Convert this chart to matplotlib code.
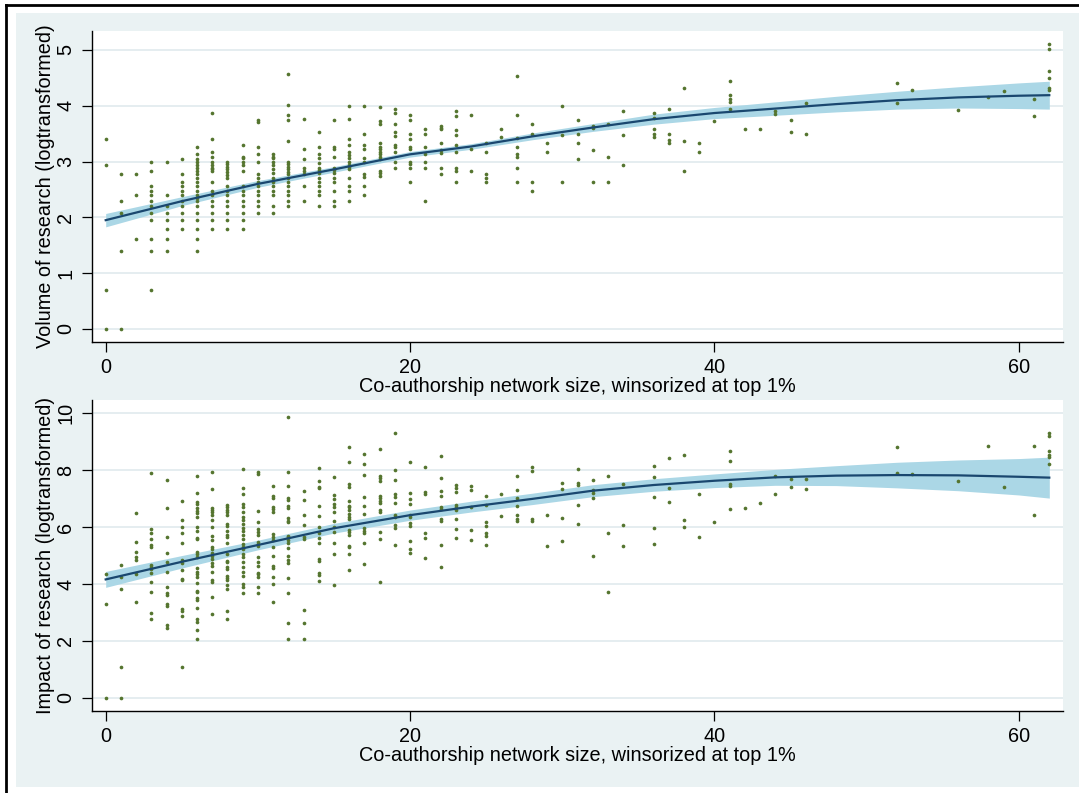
import matplotlib
matplotlib.use("Agg")
import matplotlib.pyplot as plt
from matplotlib.patches import Rectangle
from matplotlib.lines import Line2D

# network sizes that occur in the data (both panels share them)
sizes = list(range(0, 35)) + list(range(36, 47)) + [52, 53, 56, 58, 59, 61, 62]

# volume of research, one list of observations per network size
volume_cols = [
    [3.40, 2.94, 0.69, 0.0],
    [2.77, 2.30, 2.08, 1.39, 0.0],
    [2.77, 2.40, 1.61],
    [3.0, 2.83, 2.57, 2.48, 2.40, 2.30, 2.20, 2.08, 1.95, 1.61, 1.39, 0.69],
    [3.0, 2.40, 2.20, 2.08, 1.95, 1.79, 1.61, 1.39],
    [3.04, 2.77, 2.64, 2.56, 2.48, 2.40, 2.30, 2.20, 2.08, 1.95, 1.79],
    [3.26, 3.14, 3.04, 3.0, 2.94, 2.89, 2.83, 2.77, 2.71, 2.64, 2.56, 2.48, 2.40, 2.35,
     2.30, 2.20, 2.08, 1.95, 1.79, 1.61, 1.39],
    [3.87, 3.40, 3.18, 3.09, 3.0, 2.94, 2.89, 2.86, 2.83, 2.64, 2.48, 2.40, 2.30, 2.20,
     2.08, 1.95, 1.79],
    [3.0, 2.96, 2.91, 2.86, 2.81, 2.76, 2.71, 2.56, 2.48, 2.40, 2.30, 2.20, 2.08, 1.95, 1.79],
    [3.30, 3.09, 3.06, 3.0, 2.94, 2.83, 2.56, 2.48, 2.40, 2.30, 2.20, 2.08, 1.95, 1.79],
    [3.74, 3.71, 3.26, 3.14, 3.0, 2.78, 2.71, 2.64, 2.56, 2.48, 2.40, 2.30, 2.20, 2.08],
    [3.14, 3.09, 3.06, 3.0, 2.94, 2.86, 2.79, 2.71, 2.64, 2.56, 2.48, 2.40, 2.20, 2.08],
    [4.57, 4.01, 3.83, 3.74, 3.37, 3.0, 2.96, 2.91, 2.86, 2.82, 2.77, 2.71, 2.64, 2.56,
     2.48, 2.40, 2.30, 2.20],
    [3.76, 3.22, 3.04, 2.89, 2.84, 2.78, 2.56, 2.30],
    [3.53, 3.26, 3.14, 3.06, 2.97, 2.89, 2.85, 2.79, 2.71, 2.64, 2.56, 2.48, 2.40, 2.20],
    [3.74, 3.26, 3.22, 3.09, 2.89, 2.85, 2.79, 2.71, 2.64, 2.48, 2.30, 2.20],
    [4.0, 3.76, 3.40, 3.30, 3.18, 3.11, 3.06, 3.0, 2.94, 2.91, 2.86, 2.71, 2.56, 2.48, 2.30],
    [4.0, 3.50, 3.30, 3.22, 3.06, 3.0, 2.78, 2.73, 2.56, 2.40],
    [3.98, 3.73, 3.67, 3.33, 3.26, 3.22, 3.18, 3.14, 3.09, 3.04, 2.83, 2.79, 2.75],
    [3.95, 3.87, 3.67, 3.53, 3.45, 3.30, 3.26, 3.18, 3.0, 2.89],
    [3.83, 3.74, 3.50, 3.40, 3.26, 3.22, 3.0, 2.96, 2.89, 2.64],
    [3.58, 3.50, 3.26, 3.14, 3.0, 2.89, 2.30],
    [3.64, 3.61, 3.58, 3.33, 3.21, 3.16, 2.89, 2.77],
    [3.91, 3.81, 3.56, 3.47, 3.30, 3.18, 2.89, 2.84, 2.64],
    [3.83, 3.22, 2.83],
    [3.33, 3.18, 2.77, 2.71, 2.64],
    [3.58, 3.44],
    [4.54, 3.83, 3.43, 3.26, 3.14, 3.09, 2.89, 2.64],
    [3.67, 3.50, 2.64, 2.48],
    [3.33, 3.18],
    [3.99, 3.48, 2.64],
    [3.74, 3.50, 3.33, 3.04],
    [3.64, 3.61, 3.21, 2.64],
    [3.67, 3.09, 2.64],
    [3.91, 3.47, 2.94],
    [3.87, 3.78, 3.59, 3.50, 3.44],
    [3.95, 3.50, 3.38, 3.33],
    [4.31, 3.37, 2.83],
    [3.33, 3.18],
    [3.72],
    [4.44, 4.20, 4.12, 4.06, 3.94],
    [3.59],
    [3.59],
    [3.91, 3.85],
    [3.74, 3.53],
    [4.05, 3.50],
    [4.41, 4.05],
    [4.28],
    [3.93],
    [4.15],
    [4.27],
    [4.12, 3.81],
    [5.10, 5.01, 4.62, 4.49, 4.31, 4.28],
]

# impact of research, one list of observations per network size
impact_cols = [
    [4.35, 3.29, 0.0],
    [4.68, 4.26, 3.83, 1.07, 0.0],
    [6.48, 5.46, 5.13, 4.96, 4.84, 4.36, 3.35],
    [7.90, 5.94, 5.78, 5.57, 5.37, 5.29, 4.67, 4.61, 4.51, 4.37, 4.08, 3.72, 2.99, 2.78],
    [7.66, 6.66, 5.66, 5.10, 4.77, 4.42, 3.88, 3.69, 3.62, 3.29, 3.24, 2.54, 2.45],
    [6.92, 6.25, 5.99, 5.78, 5.43, 4.84, 4.75, 4.49, 4.17, 4.13, 3.13, 3.06, 2.88, 1.07],
    [7.80, 7.20, 6.89, 6.83, 6.66, 6.58, 6.48, 6.34, 6.01, 5.86, 5.60, 5.57, 5.13, 5.05,
     4.96, 4.55, 4.43, 4.35, 4.26, 4.02, 3.76, 3.73, 3.49, 3.43, 3.14, 2.77, 2.68, 2.38, 2.08],
    [7.95, 7.34, 6.66, 6.60, 6.52, 6.42, 6.25, 6.01, 5.69, 5.55, 5.31, 5.22, 5.10, 4.98,
     4.87, 4.72, 4.64, 4.41, 4.14, 4.08, 3.54, 2.93],
    [6.76, 6.69, 6.60, 6.52, 6.42, 6.11, 6.04, 5.87, 5.72, 5.66, 5.43, 5.04, 4.82, 4.76,
     4.60, 4.51, 4.28, 4.20, 4.14, 3.96, 3.81, 3.04, 2.77],
    [8.05, 7.36, 7.17, 6.83, 6.69, 6.52, 6.34, 6.25, 6.11, 5.97, 5.87, 5.72, 5.57, 5.40,
     5.31, 5.22, 5.05, 4.94, 4.78, 4.58, 4.41, 4.28, 3.99, 3.89, 3.69],
    [7.94, 7.87, 6.58, 6.18, 5.92, 5.84, 5.72, 5.49, 5.40, 5.33, 4.96, 4.78, 4.63, 4.40,
     4.34, 4.26, 3.90, 3.68],
    [7.46, 7.09, 7.03, 6.72, 6.64, 6.54, 5.74, 5.66, 5.55, 5.31, 4.98, 4.63, 4.56, 4.26,
     4.00, 3.36],
    [9.87, 7.93, 7.46, 7.03, 6.95, 6.74, 6.66, 6.31, 6.23, 6.17, 5.69, 5.64, 5.55, 5.45,
     5.25, 4.98, 4.84, 4.72, 4.20, 3.67, 2.64, 2.08],
    [7.27, 6.95, 6.42, 6.07, 5.66, 5.58, 3.08, 2.64, 2.08],
    [8.09, 7.63, 7.42, 7.36, 6.75, 6.39, 6.01, 5.80, 5.60, 5.43, 4.87, 4.82, 4.37, 4.30, 4.10],
    [7.77, 7.14, 6.98, 6.83, 6.69, 6.54, 6.23, 6.01, 5.84, 5.45, 5.04, 3.97],
    [8.81, 8.30, 7.50, 7.42, 6.92, 6.75, 6.69, 6.60, 6.46, 6.37, 6.27, 5.90, 5.84, 5.72,
     5.33, 5.29, 5.04, 4.49],
    [8.57, 8.23, 7.83, 7.07, 6.75, 6.46, 5.96, 5.87, 5.78, 5.43, 4.70],
    [8.75, 7.80, 7.71, 7.63, 7.09, 7.01, 6.93, 6.86, 6.60, 6.54, 5.84, 5.57, 4.08],
    [9.31, 8.01, 7.66, 7.16, 7.07, 6.86, 6.42, 6.34, 6.07, 5.98, 5.37],
    [8.30, 7.19, 7.00, 6.80, 6.42, 6.34, 6.15, 6.04, 5.52, 5.23, 5.08],
    [8.11, 7.23, 7.15, 5.80, 5.63, 4.92],
    [8.50, 7.74, 7.28, 7.08, 6.69, 6.62, 6.27, 6.23, 5.37, 4.58],
    [7.47, 7.36, 7.23, 6.78, 6.69, 6.60, 6.28, 5.94, 5.62],
    [7.43, 7.29, 6.69, 5.90, 5.53],
    [7.08, 6.78, 6.17, 6.03, 5.78, 5.69, 5.37],
    [7.17, 6.39],
    [7.78, 7.29, 7.01, 6.74, 6.44, 6.27, 6.23],
    [8.11, 7.97, 6.27, 6.23],
    [6.41, 5.35],
    [7.54, 7.33, 6.33, 5.50],
    [8.03, 7.55, 7.48, 6.78, 6.12],
    [7.66, 7.30, 7.19, 7.03, 4.99],
    [7.78, 5.80, 3.72],
    [7.50, 6.07, 5.35],
    [8.16, 7.76, 7.07, 5.97, 5.39],
    [8.43, 7.37, 6.89],
    [8.55, 6.24, 5.99],
    [7.17, 5.66],
    [6.19],
    [8.68, 8.31, 7.50, 7.44, 6.64],
    [6.68],
    [6.86],
    [7.81, 7.17],
    [7.68, 7.40],
    [7.69, 7.33],
    [8.82, 7.90],
    [7.88],
    [7.61],
    [8.84],
    [7.42],
    [8.84, 6.41],
    [9.30, 9.21, 8.68, 8.53, 8.45, 8.23],
]

# smoothed fit and half-width of its 95% band, read at these network sizes
fit_x = [0, 5, 10, 15, 20, 24, 28, 32, 36, 40, 44, 48, 52, 56, 60, 62]
volume_fit = [1.95, 2.29, 2.60, 2.86, 3.13, 3.27, 3.45, 3.61, 3.76, 3.87, 3.95, 4.03, 4.10, 4.15, 4.18, 4.19]
volume_ci = [0.12, 0.08, 0.06, 0.05, 0.05, 0.05, 0.06, 0.07, 0.09, 0.10, 0.12, 0.14, 0.16, 0.19, 0.23, 0.25]
impact_fit = [4.16, 4.78, 5.37, 5.96, 6.42, 6.72, 6.99, 7.28, 7.48, 7.63, 7.75, 7.81, 7.83, 7.82, 7.77, 7.74]
impact_ci = [0.28, 0.22, 0.17, 0.17, 0.18, 0.19, 0.20, 0.21, 0.22, 0.24, 0.28, 0.35, 0.45, 0.54, 0.64, 0.72]

x_ticks = [0, 20, 40, 60]
volume_ticks = [0, 1, 2, 3, 4, 5]
impact_ticks = [0, 2, 4, 6, 8, 10]
x_title = "Co-authorship network size, winsorized at top 1%"

BG = "#eaf2f3"
GRID = "#e3ecef"
DOTS = "#55752f"
LINE = "#1a476f"
BAND = "#abd7e6"
FS = 14.3

plt.rcParams["font.family"] = ["Liberation Sans", "DejaVu Sans"]

W, H = 1079, 793
fig = plt.figure(figsize=(W / 100, H / 100), dpi=100)
fig.patch.set_facecolor("white")
fig.add_artist(Rectangle((16 / W, 1 - 787 / H), (W - 16) / W, (787 - 13) / H,
                         transform=fig.transFigure, facecolor=BG, edgecolor="none", zorder=-5))
fig.add_artist(Line2D([6 / W, 6 / W], [0, 1 - 5 / H], transform=fig.transFigure, color="black", lw=2))
fig.add_artist(Line2D([6 / W, 1], [1 - 5 / H, 1 - 5 / H], transform=fig.transFigure, color="black", lw=2))


def flatten(cols):
    xs, ys = [], []
    for s, col in zip(sizes, cols):
        xs += [s] * len(col)
        ys += col
    return xs, ys


def panel(top_px, bottom_px, cols, fit, ci, ylim, yticks, ylabel):
    ax = fig.add_axes([92 / W, 1 - bottom_px / H, (1063 - 92) / W, (bottom_px - top_px) / H])
    ax.set_facecolor("white")
    for t in yticks:
        ax.axhline(t, color=GRID, lw=1.3, zorder=0)
    lo = [f - c for f, c in zip(fit, ci)]
    hi = [f + c for f, c in zip(fit, ci)]
    ax.fill_between(fit_x, lo, hi, color=BAND, lw=0, zorder=1)
    xs, ys = flatten(cols)
    ax.scatter(xs, ys, s=7, color=DOTS, lw=0, zorder=2)
    ax.plot(fit_x, fit, color=LINE, lw=1.6, zorder=3)
    ax.set_xlim(-0.9, 62.9)
    ax.set_ylim(*ylim)
    ax.set_xticks(x_ticks)
    ax.set_yticks(yticks)
    ax.set_yticklabels([str(t) for t in yticks], rotation=90, va="center")
    ax.tick_params(labelsize=FS, length=7, width=0.9, colors="black")
    ax.tick_params(axis="x", pad=5)
    ax.tick_params(axis="y", pad=5)
    for side in ("top", "right"):
        ax.spines[side].set_visible(False)
    for side in ("left", "bottom"):
        ax.spines[side].set_linewidth(1.0)
    ax.set_xlabel(x_title, fontsize=FS, labelpad=0)
    ax.set_ylabel(ylabel, fontsize=FS, labelpad=1)
    return ax


panel(31, 341.7, volume_cols, volume_fit, volume_ci, (-0.228, 5.34), volume_ticks,
      "Volume of research (logtransformed)")
panel(400, 710.7, impact_cols, impact_fit, impact_ci, (-0.457, 10.47), impact_ticks,
      "Impact of research (logtransformed)")

fig.savefig("out.png", dpi=100)
